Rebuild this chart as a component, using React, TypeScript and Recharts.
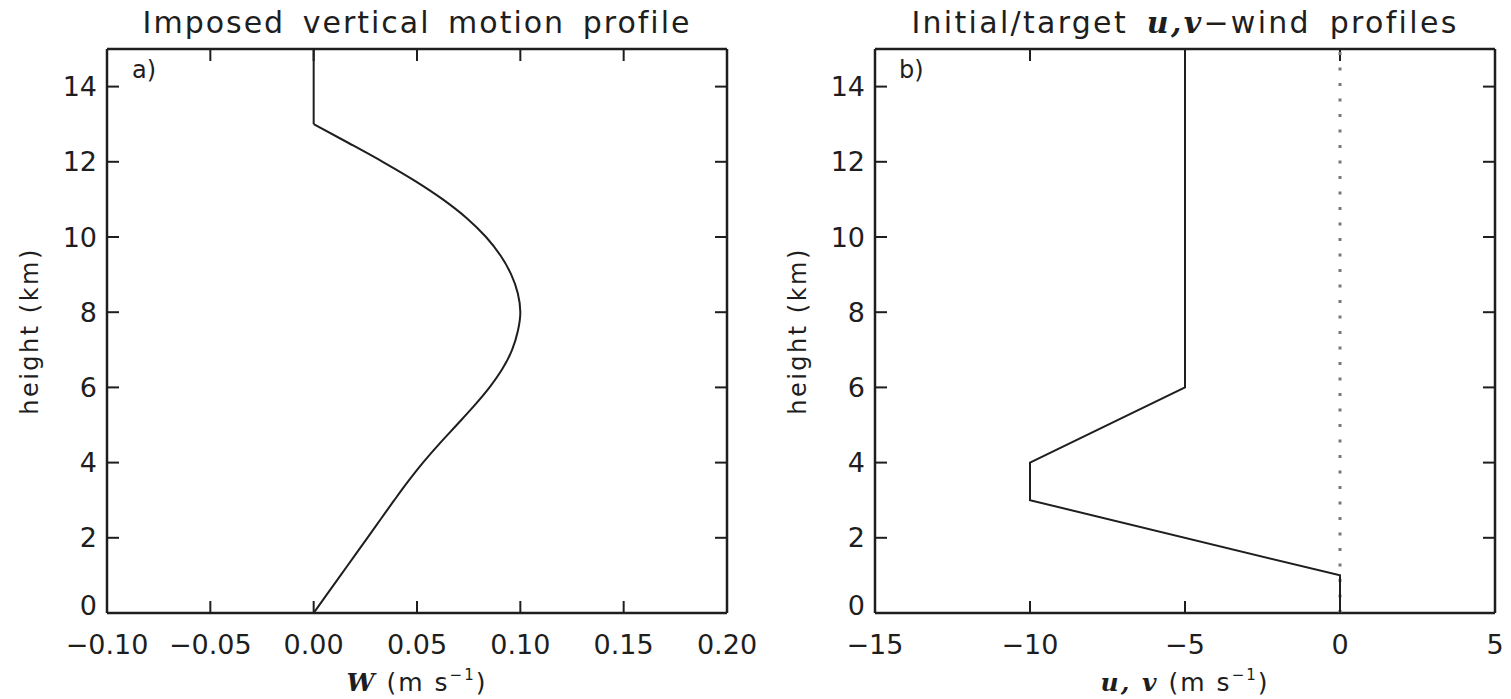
import React from 'react';
import { ScatterChart, Scatter, XAxis, YAxis } from 'recharts';

// ---- Data ----
// Panel a: imposed vertical motion W (m/s) vs height (km)
const wHeights = [0, 0.5, 1, 1.5, 2, 2.5, 3, 3.5, 4, 4.5, 5, 5.5, 6, 6.5, 7, 7.5, 8, 8.5, 9, 9.5, 10, 10.5, 11, 11.5, 12, 12.5, 13];
const wValues = [0, 0.0065, 0.013, 0.0195, 0.026, 0.0325, 0.039, 0.0457, 0.0529, 0.0608, 0.0692, 0.0775, 0.0851, 0.0914, 0.096, 0.0988, 0.1, 0.0988, 0.0956, 0.0905, 0.0834, 0.0741, 0.0625, 0.0488, 0.0334, 0.0169, 0];
const wTopHeights = [13, 15];
const wTopValues = [0, 0];

// Panel b: u and v wind (m/s) vs height (km)
const uHeights = [0, 1, 3, 4, 6, 15];
const uValues = [0, 0, -10, -10, -5, -5];
const vHeights = [0, 15];
const vValues = [0, 0];

const heightTicks = [0, 2, 4, 6, 8, 10, 12, 14];
const heightTickLabels = ['0', '2', '4', '6', '8', '10', '12', '14'];
const wTicks = [-0.1, -0.05, 0, 0.05, 0.1, 0.15, 0.2];
const wTickLabels = ['\u22120.10', '\u22120.05', '0.00', '0.05', '0.10', '0.15', '0.20'];
const uvTicks = [-15, -10, -5, 0, 5];
const uvTickLabels = ['\u221215', '\u221210', '\u22125', '0', '5'];

const wData = wHeights.map((z, i) => ({ w: wValues[i], z }));
const wTopData = wTopHeights.map((z, i) => ({ w: wTopValues[i], z }));
const uData = uHeights.map((z, i) => ({ u: uValues[i], z }));
const vData = vHeights.map((z, i) => ({ u: vValues[i], z }));

const INK = '#1e1e1e';
const SANS = 'DejaVu Sans';
const SERIF = 'DejaVu Serif';
const TICK_FS = 27;
const tickStyle = { fontFamily: SANS, fontSize: TICK_FS, fill: INK };

const lookup = (ticks: number[], labels: string[]) => (v: number) => {
  const i = ticks.findIndex((t) => Math.abs(t - v) < 1e-9);
  return i >= 0 ? labels[i] : String(v);
};
const blank = () => '';
const noShape = () => <g />;

// Y tick label: the bottom label sits just above the axis, as in the reference
const HeightTick = (props: any) => {
  const { x, y, payload } = props;
  const v = payload.value;
  const shift = v === 0 ? -8 : 0;
  return (
    <text x={x} y={y + shift} textAnchor="end" dominantBaseline="central"
      fontFamily={SANS} fontSize={TICK_FS} fill={INK}>
      {lookup(heightTicks, heightTickLabels)(v)}
    </text>
  );
};

const axisLineStyle = { stroke: INK, strokeWidth: 2.5 };
const tickLineStyle = { stroke: INK, strokeWidth: 2 };

export default function App() {
  return (
    <div style={{ position: 'absolute', left: 0, top: 0, width: 1511, height: 699, background: '#fff', overflow: 'hidden' }}>
      {/* Panel a */}
      <div style={{ position: 'absolute', left: 0, top: 0 }}>
        <ScatterChart width={800} height={699} margin={{ top: 48, right: 72, bottom: 26, left: 0 }}>
          <XAxis xAxisId="b" type="number" dataKey="w" domain={[-0.1, 0.2]} ticks={wTicks} interval={0}
            allowDataOverflow tickFormatter={lookup(wTicks, wTickLabels)} tick={tickStyle}
            tickSize={-12} tickMargin={34} height={60} axisLine={axisLineStyle} tickLine={tickLineStyle} />
          <XAxis xAxisId="t" orientation="top" type="number" dataKey="w" domain={[-0.1, 0.2]} ticks={wTicks} interval={0}
            allowDataOverflow tickFormatter={blank} tickSize={-12} tickMargin={0} height={1}
            axisLine={axisLineStyle} tickLine={tickLineStyle} />
          <YAxis yAxisId="l" type="number" dataKey="z" domain={[0, 15]} ticks={heightTicks} interval={0}
            allowDataOverflow tick={<HeightTick />}
            tickSize={-12} tickMargin={22} width={107} axisLine={axisLineStyle} tickLine={tickLineStyle} />
          <YAxis yAxisId="r" orientation="right" type="number" dataKey="z" domain={[0, 15]} ticks={heightTicks} interval={0}
            allowDataOverflow tickFormatter={blank} tickSize={-12} tickMargin={0} width={1}
            axisLine={axisLineStyle} tickLine={tickLineStyle} />
          <Scatter xAxisId="b" yAxisId="l" data={wData} shape={noShape} line={{ stroke: INK, strokeWidth: 2 }}
            lineJointType="monotoneY" isAnimationActive={false} legendType="none" />
          <Scatter xAxisId="b" yAxisId="l" data={wTopData} shape={noShape} line={{ stroke: INK, strokeWidth: 2 }}
            lineJointType="linear" isAnimationActive={false} legendType="none" />
          <Scatter xAxisId="t" yAxisId="r" data={wData} shape={noShape} isAnimationActive={false} legendType="none" />
          <text x={417} y={33} textAnchor="middle" fontFamily={SANS} fontSize={30} fill={INK} letterSpacing={2} wordSpacing={6}>
            Imposed vertical motion profile
          </text>
          <text x={132} y={78} fontFamily={SANS} fontSize={24} fill={INK}>a)</text>
          <text x={38} y={331} transform="rotate(-90 38 331)" textAnchor="middle" fontFamily={SANS} fontSize={24} fill={INK} letterSpacing={2.5}>
            height (km)
          </text>
          <text x={417} y={691} textAnchor="middle" fontFamily={SANS} fontSize={25} fill={INK} letterSpacing={2}>
            <tspan fontFamily={SERIF} fontStyle="italic" fontWeight="bold">W</tspan>
            <tspan> (m s</tspan>
            <tspan fontSize={15} dy={-11}>{'\u22121'}</tspan>
            <tspan dy={11}>)</tspan>
          </text>
        </ScatterChart>
      </div>

      {/* Panel b */}
      <div style={{ position: 'absolute', left: 755, top: 0 }}>
        <ScatterChart width={756} height={699} margin={{ top: 48, right: 15, bottom: 26, left: 0 }}>
          <XAxis xAxisId="b" type="number" dataKey="u" domain={[-15, 5]} ticks={uvTicks} interval={0}
            allowDataOverflow tickFormatter={lookup(uvTicks, uvTickLabels)} tick={tickStyle}
            tickSize={-12} tickMargin={34} height={60} axisLine={axisLineStyle} tickLine={tickLineStyle} />
          <XAxis xAxisId="t" orientation="top" type="number" dataKey="u" domain={[-15, 5]} ticks={uvTicks} interval={0}
            allowDataOverflow tickFormatter={blank} tickSize={-12} tickMargin={0} height={1}
            axisLine={axisLineStyle} tickLine={tickLineStyle} />
          <YAxis yAxisId="l" type="number" dataKey="z" domain={[0, 15]} ticks={heightTicks} interval={0}
            allowDataOverflow tick={<HeightTick />}
            tickSize={-12} tickMargin={22} width={120} axisLine={axisLineStyle} tickLine={tickLineStyle} />
          <YAxis yAxisId="r" orientation="right" type="number" dataKey="z" domain={[0, 15]} ticks={heightTicks} interval={0}
            allowDataOverflow tickFormatter={blank} tickSize={-12} tickMargin={0} width={1}
            axisLine={axisLineStyle} tickLine={tickLineStyle} />
          <Scatter xAxisId="b" yAxisId="l" data={vData} shape={noShape}
            line={{ stroke: '#777', strokeWidth: 3, strokeDasharray: '3 12.5' }}
            isAnimationActive={false} legendType="none" />
          <Scatter xAxisId="b" yAxisId="l" data={uData} shape={noShape} line={{ stroke: INK, strokeWidth: 2 }}
            lineJointType="linear" isAnimationActive={false} legendType="none" />
          <Scatter xAxisId="t" yAxisId="r" data={uData} shape={noShape} isAnimationActive={false} legendType="none" />
          <text x={430} y={33} textAnchor="middle" fontFamily={SANS} fontSize={30} fill={INK} letterSpacing={2.3} wordSpacing={7}>
            <tspan>Initial/target </tspan>
            <tspan fontFamily={SERIF} fontStyle="italic" fontWeight="bold">u,v</tspan>
            <tspan>{'\u2212wind profiles'}</tspan>
          </text>
          <text x={144} y={78} fontFamily={SANS} fontSize={24} fill={INK}>b)</text>
          <text x={51} y={331} transform="rotate(-90 51 331)" textAnchor="middle" fontFamily={SANS} fontSize={24} fill={INK} letterSpacing={2.5}>
            height (km)
          </text>
          <text x={430} y={691} textAnchor="middle" fontFamily={SANS} fontSize={25} fill={INK} letterSpacing={2}>
            <tspan fontFamily={SERIF} fontStyle="italic" fontWeight="bold">u, v</tspan>
            <tspan> (m s</tspan>
            <tspan fontSize={15} dy={-11}>{'\u22121'}</tspan>
            <tspan dy={11}>)</tspan>
          </text>
        </ScatterChart>
      </div>
    </div>
  );
}
